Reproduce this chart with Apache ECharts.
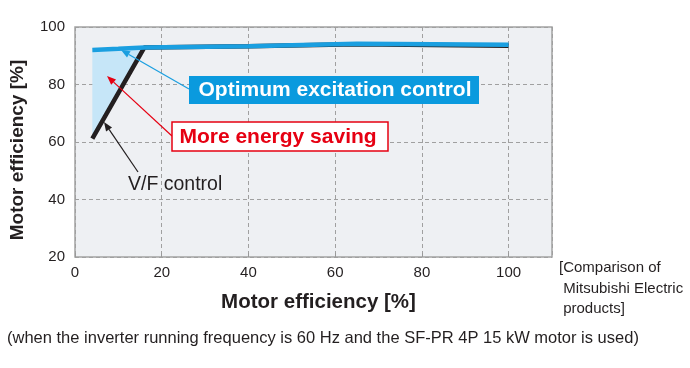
<!DOCTYPE html>
<html>
<head>
<meta charset="utf-8">
<script src="https://cdn.jsdelivr.net/npm/echarts@6/dist/echarts.min.js"></script>
<style>
html,body{margin:0;padding:0;background:#fff;}
#chart{width:690px;height:368px;}
</style>
</head>
<body>
<div id="chart"></div>
<script>
// ---- data ----
var xTicks = [0, 20, 40, 60, 80, 100];
var yTicks = [20, 40, 60, 80, 100];
var optimumX = [4, 10, 16, 40, 65, 100];
var optimumY = [92.0, 92.4, 92.9, 93.3, 94.2, 93.8];
var vfX = [4, 16, 40, 65, 100];
var vfY = [61.2, 92.9, 93.3, 94.0, 93.5];
var axisTitle = 'Motor efficiency [%]';
var labelOptimum = 'Optimum excitation control';
var labelSaving = 'More energy saving';
var labelVF = 'V/F control';
var noteLines = ['[Comparison of', ' Mitsubishi Electric', ' products]'];
var footnote = '(when the inverter running frequency is 60 Hz and the SF-PR 4P 15 kW motor is used)';

function pairs(xs, ys) { return xs.map(function (x, i) { return [x, ys[i]]; }); }

// fill region between the two curves where they differ (x from 4 to 16)
var fillPoly = [];
for (var i = 0; i < optimumX.length; i++) if (optimumX[i] <= 16) fillPoly.push([optimumX[i], optimumY[i]]);
var vfPart = [];
for (var j = 0; j < vfX.length; j++) if (vfX[j] <= 16) vfPart.push([vfX[j], vfY[j]]);
fillPoly = fillPoly.concat(vfPart.reverse());

var FONT = '"Liberation Sans", Arial, Helvetica, sans-serif';
var NARROW = '"Liberation Sans Narrow", "Liberation Sans", Arial, sans-serif';

function arrow(x1, y1, x2, y2, color) {
  var ang = Math.atan2(y2 - y1, x2 - x1);
  var L = 9, W = 3.6;
  var bx = x2 - L * Math.cos(ang), by = y2 - L * Math.sin(ang);
  var px = -Math.sin(ang) * W, py = Math.cos(ang) * W;
  return [
    { type: 'line', shape: { x1: x1, y1: y1, x2: bx, y2: by }, style: { stroke: color, lineWidth: 1.2 }, z: 100 },
    { type: 'polygon', shape: { points: [[x2, y2], [bx + px, by + py], [bx - px, by - py]] }, style: { fill: color }, z: 100 }
  ];
}

var chart = echarts.init(document.getElementById('chart'));

var graphics = [];
graphics = graphics.concat(arrow(189, 89, 121, 50, '#1a9fe0'));
graphics = graphics.concat(arrow(172, 136, 107, 76, '#e60012'));
graphics = graphics.concat(arrow(138, 172, 104, 122, '#231f20'));
graphics.push({
  type: 'rect', shape: { x: 189, y: 76, width: 290, height: 28 },
  style: { fill: '#0a9ade' }, z: 101
});
graphics.push({
  type: 'text', x: 335, y: 90, z: 102,
  style: { text: labelOptimum, fill: '#fff', font: 'bold 21px ' + FONT, align: 'center', verticalAlign: 'middle' }
});
graphics.push({
  type: 'rect', shape: { x: 172, y: 122, width: 216, height: 29 },
  style: { fill: '#fff', stroke: '#e60012', lineWidth: 1.5 }, z: 101
});
graphics.push({
  type: 'text', x: 278, y: 137, z: 102,
  style: { text: labelSaving, fill: '#e60012', font: 'bold 21px ' + FONT, align: 'center', verticalAlign: 'middle' }
});
graphics.push({
  type: 'text', x: 128, y: 185, z: 102,
  style: { text: labelVF, fill: '#231f20', font: '19.5px ' + FONT, align: 'left', verticalAlign: 'middle' }
});
graphics.push({
  type: 'text', x: 559, y: 258, z: 102,
  style: { text: noteLines.join('\n'), fill: '#231f20', font: '15px ' + NARROW, lineHeight: 20.5, align: 'left', verticalAlign: 'top' }
});
graphics.push({
  type: 'text', x: 7, y: 338, z: 102,
  style: { text: footnote, fill: '#231f20', font: '16.5px ' + NARROW, align: 'left', verticalAlign: 'middle' }
});

chart.setOption({
  animation: false,
  grid: {
    left: 75, top: 27, right: 138, bottom: 111,
    show: true, backgroundColor: '#eef0f3', borderColor: '#a3a3a3', borderWidth: 1.5
  },
  xAxis: {
    type: 'value', min: 0, max: 110, interval: 20,
    name: axisTitle, nameLocation: 'middle', nameGap: 35,
    nameTextStyle: { fontFamily: FONT, fontSize: 20.5, fontWeight: 'bold', color: '#231f20', padding: [0, 0, 0, 10] },
    axisLine: { show: false },
    axisTick: { show: true, inside: true, length: 4, lineStyle: { color: '#999' } },
    axisLabel: {
      showMaxLabel: false, margin: 8, fontFamily: FONT, fontSize: 15, color: '#231f20',
      formatter: function (v) { return xTicks.indexOf(v) >= 0 ? String(v) : ''; }
    },
    splitLine: { show: true, lineStyle: { color: '#a0a0a0', type: [4, 3], width: 1 } }
  },
  yAxis: {
    type: 'value', min: 20, max: 100, interval: 20,
    name: axisTitle, nameLocation: 'middle', nameGap: 48,
    nameTextStyle: { fontFamily: FONT, fontSize: 19, fontWeight: 'bold', color: '#231f20', padding: [0, 16, 0, 0] },
    axisLine: { show: false },
    axisTick: { show: false },
    axisLabel: {
      margin: 10, fontFamily: FONT, fontSize: 15, color: '#231f20',
      formatter: function (v) { return yTicks.indexOf(v) >= 0 ? String(v) : ''; }
    },
    splitLine: { show: true, lineStyle: { color: '#a0a0a0', type: [4, 3], width: 1 } }
  },
  series: [
    {
      type: 'custom', z: 1, silent: true,
      data: fillPoly,
      renderItem: function (params, api) {
        if (params.dataIndex !== 0) return;
        var pts = fillPoly.map(function (p) { return api.coord(p); });
        return { type: 'polygon', shape: { points: pts }, style: { fill: '#c6e6f8' } };
      }
    },
    {
      type: 'line', name: labelVF, data: pairs(vfX, vfY), z: 3,
      symbol: 'none', lineStyle: { color: '#231f20', width: 4.5 }
    },
    {
      type: 'line', name: labelOptimum, data: pairs(optimumX, optimumY), z: 4,
      symbol: 'none', lineStyle: { color: '#1a9fe0', width: 4.5 }
    }
  ],
  graphic: graphics
});
</script>
</body>
</html>
